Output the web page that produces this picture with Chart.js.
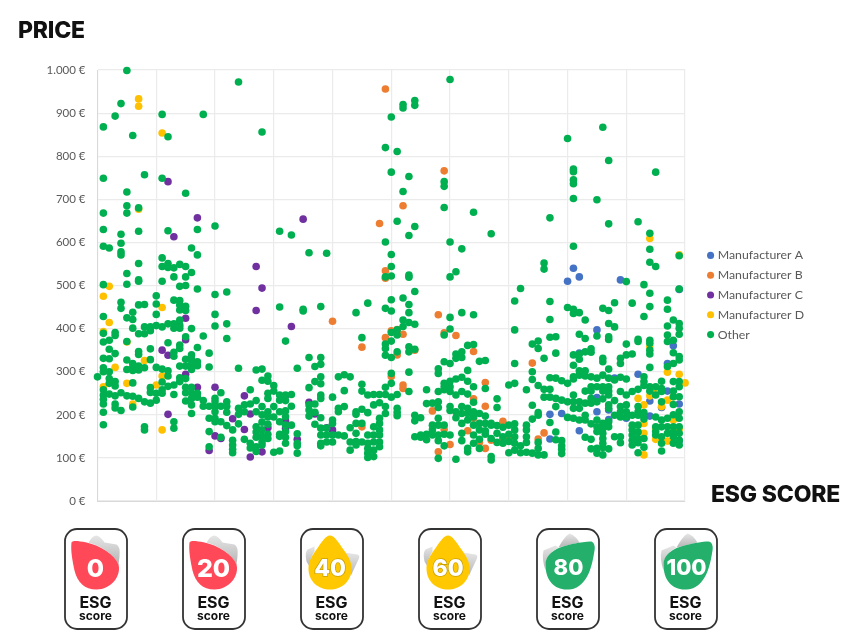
<!DOCTYPE html>
<html>
<head>
<meta charset="utf-8">
<title>Price vs ESG score</title>
<script src="https://cdn.jsdelivr.net/npm/chart.js@4/dist/chart.umd.min.js"></script>
<style>
body { margin: 0; background: #fff; }
#wrap { position: relative; width: 860px; height: 640px; overflow: hidden; }
#plot { position: absolute; left: 0; top: 0; }
.heading { position: absolute; font: 800 23px Inter, sans-serif; color: #111; letter-spacing: -0.2px; line-height: 28px; }
.badge { position: absolute; top: 528px; width: 64px; height: 102px; }
</style>
</head>
<body>
<div id="wrap">
<canvas id="plot" width="860" height="640"></canvas>
<div class="heading" style="left:18px;top:16px">PRICE</div>
<div class="heading" style="left:711px;top:480px">ESG SCORE</div>
</div>
<script>
// each row: score, then the prices read at that score
const otherScore0 = [
    [0,288],
    [1,868,749,668,630,591,502,428,389,369,331,309,300,258,246,236,225,206,177],
    [2,587,373,352,330,300,284,273,248],
    [3,893,391,384,342,277,267,244,225,216],
    [4,922,619,598,578,571,461,447,251,210],
    [5,999,717,685,668,528,503,425,370,327,305,244],
    [6,848,438,421,401,319,310,303,274,243,218],
    [7,680,626,551,513,510,455,388,347,340,313,304,238],
    [8,757,456,404,388,309,230,172,165],
    [9,404,395,353,328,263,252,227],
    [10,476,457,433,407,310,250,234],
    [11,897,749,564,544,510,404,306,276,258,250],
    [12,845,627,551,542,411,367,302,290,266],
    [13,541,520,466,411,401,345,336,269,247,184,169],
    [14,549,498,465,455,443,420,408,401,362,354,313,286,277],
    [15,714,544,520,500,452,442,381,329,313,284,264,251,232],
    [16,587,530,400,339,329,318,305,264,251,238,223,203],
    [17,630,571,492,356,323,314,250,241],
    [18,897,383,233,220],
    [19,343,311,220,192,161,126]
];
const otherScore20 = [
    [20,638,479,433,406,238,230,220,207,192,184],
    [21,251,220,184,148],
    [22,485,411,377,230,220,206,175],
    [23,165,141,130,120,112],
    [24,972,308,215,201,179],
    [25,223,207,143],
    [26,258,225,134,123],
    [27,304,233,207,172,160,148,126,115],
    [28,856,306,280,219,200,183,165,150,137,130],
    [29,290,278,250,238,207,195,178,155,145],
    [30,268,255,219,195,113],
    [31,626,450,246,234,207,184,155,150,116],
    [32,371,246,233,209,196,176,161,148,134],
    [33,617,247,220,176],
    [34,308,156,134,128,111],
    [35,445,441],
    [36,576,333,263,223,211,197],
    [37,312,277,225,206,178],
    [38,451,333,317,288,272,246,238,193,169,153,134,128],
    [39,575,169,153,137]
];
const otherScore40 = [
    [40,241,188,180,153,137],
    [41,288,215,207,153],
    [42,293,256,219,151],
    [43,288,170,137,118],
    [44,437,207,201,180,157,138,130],
    [45,379,271,255,213,180,137],
    [46,459,246,205,153,134,122,111,101],
    [47,247,223,172,153,137,118,103],
    [48,247,228,192,180,165,153,137,126],
    [49,820,601,520,447,364,354,338,264,247,219,203],
    [50,891,763,572,544,522,467,441,391,371,333,296,273,241],
    [51,811,649,397,385,346,247,215,206,198],
    [52,920,912,718,471,420,405],
    [53,753,616,524,519,456,437,414,358,346,299,254],
    [54,929,918,637,486,410,352,199,186,149],
    [55,193,153,148],
    [56,258,226,155,142],
    [57,227,176,165,153],
    [58,307,296,254,230,217,192,176,153,140,99],
    [59,741,730,681,385,323,273,265,258,176,155,128]
];
const otherScore60 = [
    [60,978,601,520,426,399,319,278,265,254,219,210,153],
    [61,532,341,331,283,246,207,193,97],
    [62,585,437,346,333,287,254,219,203,180,157,140],
    [63,361,303,278,248,215,203,188,122,114],
    [64,670,432,363,265,229,207,195,176,153,134],
    [65,324,203,180,165,143,122],
    [66,326,261,197,180,163,155],
    [67,620,180,176,145,103,95],
    [68,237,217,175,157,136],
    [69,171,149,134],
    [70,269,176,155,138,112],
    [71,464,397,319,273,179,165,149,134,118],
    [72,493,128,112],
    [73,258,176,165,149,136,113],
    [74,364,300,282,222,190,111],
    [75,371,354,268,205,199,136,122,107],
    [76,552,538,331,259,241,107],
    [77,657,463,421,380,286,259,241,182],
    [78,381,343,285,238,219,160,142],
    [79,279,234,140,128,120,110]
];
const otherScore80 = [
    [80,841,449,273,230,194],
    [81,770,764,745,736,702,591,445,435,339,315,288,283,246,230,215,192],
    [82,437,387,341,329,302,292,230,215,188],
    [83,420,377,346,302,290,255,227,199,188,148],
    [84,353,345,288,265,255,238,227,179,143,121],
    [85,699,383,285,265,230,188,172,161,122,111],
    [86,867,447,331,323,292,265,255,237,180,168,157,145,134,124,107],
    [87,790,643,442,412,381,375,306,285,265,255,246,223,215,184,172,121],
    [88,460,404,281,233,199,149],
    [89,331,319,287,254,219,207,195,149,135],
    [90,509,364,339,283,246,223,207,195],
    [91,459,341,254,199,176,165,153,141,130],
    [92,648,375,370,259,219,207,199,176,160,145,135,112],
    [93,502,428,288,277,268,205,190,145,125],
    [94,621,584,554,482,451,373,366,350,341,310,265,255],
    [95,763,544,265,246,195,172,161,153],
    [96,278,261,254,230,188,172,149,134,116],
    [97,466,445,406,385,370,312,192,172,157],
    [98,420,373,344,319,277,255,242,224,200,172,160,149,134],
    [99,569,492,412,401,387,335,327,277,265,242,207,192,172,157,141,130]
];
const manufacturerA = [
    [77,201],[77,144],[79,203],[80,510],[81,540],[82,520],[82,343],[82,163],[85,397],[85,240],[85,207],
    [87,211],[87,189],[88,285],[89,513],[90,192],[92,294],[94,232],[94,197],[96,217],[97,319],[97,255],
    [98,360],[99,491],[99,225],[99,140]
];
const manufacturerB = [
    [40,417],[45,357],[45,172],[48,644],[49,956],[49,534],[49,517],[49,379],[50,395],[50,289],[51,398],[51,339],
    [52,685],[52,387],[52,269],[52,261],[54,350],[57,209],[58,432],[58,114],[59,766],[59,390],[59,166],
    [60,131],[61,384],[63,163],[64,347],[64,237],[64,192],[65,136],[66,275],[66,220],[66,122],[67,141],
    [69,185],[69,145],[70,143],[74,320],[75,144],[76,158]
];
const manufacturerC = [
    [11,350],[12,741],[12,338],[12,201],[13,613],[15,424],[15,374],[15,294],[17,657],[17,264],[19,117],
    [20,264],[20,151],[21,145],[23,191],[25,244],[25,166],[26,202],[26,102],[27,544],[27,442],[28,494],
    [28,114],[29,170],[32,244],[32,186],[32,168],[33,405],[34,143],[35,654],[36,229],[37,202],[39,170],[40,165]
];
const manufacturerD = [
    [1,475],[1,393],[1,265],[2,498],[2,414],[3,310],[5,369],[5,273],[6,225],[7,933],[7,916],[7,677],
    [8,326],[10,269],[11,854],[11,449],[11,290],[11,165],[92,238],[93,223],[93,180],[93,157],[93,107],
    [94,609],[94,358],[94,244],[95,250],[95,168],[95,143],[96,219],[97,299],[97,234],[97,139],
    [98,242],[98,188],[98,140],[99,571],[99,294],[99,167],[100,274]
];

const seriesNames = ['Manufacturer A', 'Manufacturer B', 'Manufacturer C', 'Manufacturer D', 'Other'];
const seriesColors = ['#4472C4', '#ED7D31', '#7030A0', '#FFC000', '#00B050'];
const priceTicks = [0, 100, 200, 300, 400, 500, 600, 700, 800, 900, 1000];
const badgeScores = [0, 20, 40, 60, 80, 100];

const otherRows = [...otherScore0, ...otherScore20, ...otherScore40, ...otherScore60, ...otherScore80];
const otherPoints = otherRows.flatMap(row => row.slice(1).map(price => ({ x: row[0], y: price })));
const toPoints = list => list.map(p => ({ x: p[0], y: p[1] }));
const seriesPoints = [
    toPoints(manufacturerA),
    toPoints(manufacturerB),
    toPoints(manufacturerC),
    toPoints(manufacturerD),
    otherPoints
];

function priceLabel(value) {
    return value >= 1000 ? '1.000 €' : value + ' €';
}

const moveLegend = {
    id: 'moveLegend',
    afterLayout(chart) {
        chart.legend.left += 17;
        chart.legend.right += 17;
        chart.legend.top += 9.5;
        chart.legend.bottom += 9.5;
    }
};

new Chart(document.getElementById('plot'), {
    type: 'scatter',
    data: {
        datasets: seriesNames.map((name, i) => ({
            label: name,
            data: seriesPoints[i],
            backgroundColor: seriesColors[i],
            borderColor: seriesColors[i],
            borderWidth: 0,
            pointRadius: 3.8,
            order: seriesNames.length - i,
            clip: false
        }))
    },
    options: {
        responsive: false,
        animation: false,
        layout: { padding: { left: 0, right: 63, top: 70, bottom: 139 } },
        scales: {
            x: {
                type: 'linear',
                min: 0,
                max: 100,
                ticks: { display: false, stepSize: 10 },
                grid: { color: '#ebebeb', lineWidth: 1.2, drawTicks: false },
                border: { color: '#d9d9d9' }
            },
            y: {
                min: 0,
                max: 1000,
                afterBuildTicks(axis) { axis.ticks = priceTicks.map(v => ({ value: v })); },
                afterFit(axis) { axis.width = 97.5; },
                ticks: {
                    callback: priceLabel,
                    color: '#595959',
                    font: { family: 'Lato', size: 11.5 },
                    padding: 12
                },
                grid: { color: '#ebebeb', lineWidth: 1.2, drawTicks: false },
                border: { color: '#d9d9d9' }
            }
        },
        plugins: {
            tooltip: { enabled: false },
            legend: {
                position: 'right',
                labels: {
                    usePointStyle: true,
                    pointStyle: 'circle',
                    boxWidth: 2,
                    boxHeight: 5,
                    padding: 7.5,
                    color: '#595959',
                    font: { family: 'Lato', size: 12.3 },
                    sort: (a, b) => a.datasetIndex - b.datasetIndex
                }
            }
        }
    },
    plugins: [moveLegend]
});

// little ESG badges under the chart
const SVG_NS = 'http://www.w3.org/2000/svg';
const dropShapes = {
    red: 'M7 14 C8 12 12 12 22 14 C36 17 50 26 54 36 C57 48 46 61 32 61 C20 61 13 54 10 42 C8 33 6 22 7 14 Z',
    yellow: 'M29.5 7 C34 7 38 14 43 21 C48 28 51 33 51 40 C51 53 41 61 29.5 61 C18 61 8 53 8 40 C8 33 11 28 16 21 C21 14 25 7 29.5 7 Z',
    green: 'M54 13 C57 13 59 17 58 22 C56 34 54 44 48 52 C42 60 36 61 30 61 C18 61 9 52 9 36 C9 26 18 20 30 17 C38 15 48 13 54 13 Z'
};
const backShapes = {
    red: ['M24 14 Q28 7 32 7 Q36 8 40 14 L52 16 Q56 18 55 28 L54 36 C50 26 36 17 24 14 Z'],
    yellow: ['M14 18 L7 21 Q4 24 6 33 L9 38 C9 32 11 28 14 23 Z', 'M44 24 L57 26 Q60 27 58 31 L50 48 C51 38 49 30 44 24 Z'],
    green: ['M22 19 Q28 8 33 5 Q38 6 43 14 Z', 'M7 22 L19 17 L22 19 Q10 25 9 36 L9 42 Q5 30 7 22 Z']
};
const dropColors = { red: '#FF4858', yellow: '#FFC800', green: '#24B06B' };
const numberSizes = { 0: 25, 20: 25, 40: 23, 60: 23, 80: 22, 100: 22 };
const numberX = { red: 31, yellow: 29.5, green: 32 };

function svgEl(name, attrs, text) {
    const el = document.createElementNS(SVG_NS, name);
    Object.keys(attrs).forEach(k => el.setAttribute(k, attrs[k]));
    if (text !== undefined) el.textContent = text;
    return el;
}

badgeScores.forEach((score, i) => {
    const kind = score < 40 ? 'red' : score < 80 ? 'yellow' : 'green';
    const svg = svgEl('svg', { class: 'badge', viewBox: '-0.5 -0.5 64 102', style: 'left:' + (64.2 + i * 118) + 'px' });
    svg.appendChild(svgEl('rect', { x: 0.5, y: 0.5, width: 62, height: 100, rx: 12, fill: '#fff', stroke: '#333', 'stroke-width': 1.8 }));
    const grad = svgEl('linearGradient', { id: 'fade' + i, x1: 0, y1: 0, x2: 0, y2: 1 });
    grad.appendChild(svgEl('stop', { offset: 0, 'stop-color': '#e6e6e6' }));
    grad.appendChild(svgEl('stop', { offset: 1, 'stop-color': '#b4b4b4' }));
    svg.appendChild(grad);
    backShapes[kind].forEach(d => svg.appendChild(svgEl('path', { d: d, fill: 'url(#fade' + i + ')' })));
    svg.appendChild(svgEl('path', { d: dropShapes[kind], fill: dropColors[kind] }));
    const numAttrs = {
        x: numberX[kind], y: 39 + numberSizes[score] * 0.36, 'text-anchor': 'middle',
        'font-family': 'Inter', 'font-weight': 800, 'font-size': numberSizes[score], fill: '#fff'
    };
    if (kind === 'yellow') {
        numAttrs.stroke = '#C9A000';
        numAttrs['stroke-width'] = 1.6;
        numAttrs['paint-order'] = 'stroke';
    }
    svg.appendChild(svgEl('text', numAttrs, String(score)));
    svg.appendChild(svgEl('text', { x: numberX.red, y: 79, 'text-anchor': 'middle', 'font-family': 'Inter', 'font-weight': 700, 'font-size': 16, fill: '#111' }, 'ESG'));
    svg.appendChild(svgEl('text', { x: numberX.red, y: 91.5, 'text-anchor': 'middle', 'font-family': 'Inter', 'font-weight': 700, 'font-size': 12, fill: '#111' }, 'score'));
    document.getElementById('wrap').appendChild(svg);
});
</script>
</body>
</html>
